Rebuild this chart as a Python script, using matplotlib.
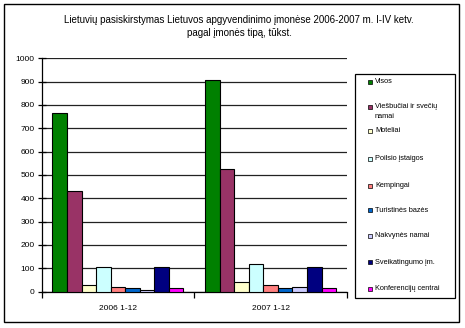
import matplotlib
matplotlib.use("Agg")
import matplotlib.pyplot as plt
from matplotlib.patches import Rectangle
import numpy as np

categories = ["2006 1-12", "2007 1-12"]
series_names = ["Visos", "Viešbučiai ir svečių\nnamai", "Moteliai", "Poilsio įstaigos",
                "Kempingai", "Turistinės bazės", "Nakvynės namai", "Sveikatingumo įm.",
                "Konferencijų centrai"]
values_2006 = [767, 432, 29, 106, 21, 13, 7, 103, 13]
values_2007 = [908, 525, 39, 119, 29, 13, 18, 106, 13]
colors = ["#008000", "#993366", "#FFFFCC", "#CCFFFF", "#FF8080", "#0066CC",
          "#CCCCFF", "#000080", "#FF00FF"]
yticks = list(range(0, 1001, 100))

W, H = 465, 328
fig = plt.figure(figsize=(W / 100, H / 100), dpi=100)
plt.rcParams['font.family'] = ['Liberation Sans', 'DejaVu Sans']

def fx(px):
    return px / W

def fy(py):
    return 1 - py / H

# outer frame
fig.patches.append(Rectangle((fx(4), fy(322)), fx(459) - fx(4), fy(4) - fy(322),
                             transform=fig.transFigure, fill=False, ec="black", lw=1.0))

# title
fig.text(fx(239), fy(20), "Lietuvių pasiskirstymas Lietuvos apgyvendinimo įmonėse 2006-2007 m. I-IV ketv.",
         ha="center", va="center", fontsize=7)
fig.text(fx(239), fy(33), "pagal įmonės tipą, tūkst.", ha="center", va="center", fontsize=7)

left, right, top, bottom = 41.5, 347, 58.3, 291.5
ax = fig.add_axes([fx(left), fy(bottom), fx(right) - fx(left), fy(top) - fy(bottom)])

n = len(series_names)
w = 1 / (n + 1.5)
x = np.arange(len(categories))
data = np.array([values_2006, values_2007])
for i in range(n):
    ax.bar(x + (i - (n - 1) / 2) * w, data[:, i], width=w, color=colors[i],
           edgecolor="black", linewidth=0.8, zorder=3)

ax.set_xlim(-0.5, 1.5)
ax.set_ylim(0, 1000)
ax.set_yticks(yticks)
ax.set_yticklabels([str(t) for t in yticks], fontsize=6)
ax.yaxis.grid(True, color="#222222", linewidth=0.9, zorder=0)
ax.set_axisbelow(True)
ax.tick_params(axis="y", direction="inout", length=6, width=0.9, pad=2)
ax.set_xticks([-0.5, 0.5, 1.5])
ax.set_xticklabels([])
ax.set_xticks(x, minor=True)
ax.set_xticklabels(categories, minor=True, fontsize=6)
ax.tick_params(axis="x", which="major", direction="out", length=4, width=0.9)
ax.tick_params(axis="x", which="minor", length=0, pad=10)
for s in ["top", "right"]:
    ax.spines[s].set_visible(False)
ax.spines["left"].set_linewidth(0.9)
ax.spines["bottom"].set_linewidth(0.9)

# legend box (drawn manually)
fig.patches.append(Rectangle((fx(355), fy(298)), fx(455) - fx(355), fy(74) - fy(298),
                             transform=fig.transFigure, fill=True, fc="white",
                             ec="black", lw=0.9))
legend_y = [81.7, 107, 131, 159, 186, 210, 235.7, 262, 289]
for name, col, ly in zip(series_names, colors, legend_y):
    fig.patches.append(Rectangle((fx(368), fy(ly + 2)), fx(4), 4 / H,
                                 transform=fig.transFigure, fc=col, ec="black", lw=0.5))
    if "\n" in name:
        fig.text(fx(375), fy(ly - 4), name, ha="left", va="top", fontsize=5.3, linespacing=1.6)
    else:
        fig.text(fx(375), fy(ly), name, ha="left", va="center", fontsize=5.3)

fig.savefig("out.png", dpi=100)
